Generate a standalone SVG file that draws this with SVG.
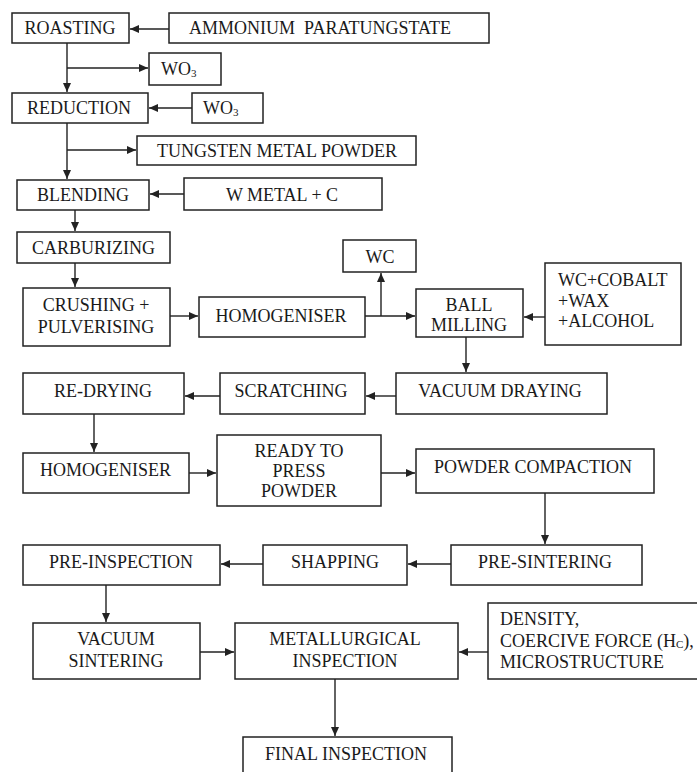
<svg xmlns="http://www.w3.org/2000/svg" width="697" height="772" viewBox="0 0 697 772">
<style>
  .box { fill: #ffffff; stroke: #222222; stroke-width: 1.5; }
  .t { font-family: "Liberation Serif", "Times New Roman", serif; font-size: 18px; fill: #1a1a1a; text-anchor: middle; }
  .tl { font-family: "Liberation Serif", "Times New Roman", serif; font-size: 18px; fill: #1a1a1a; text-anchor: start; }
  .sub { font-size: 11px; }
  .c { fill: none; stroke: #222222; stroke-width: 1.4; marker-end: url(#arr); }
  .l { fill: none; stroke: #222222; stroke-width: 1.4; }
</style>
<defs>
  <marker id="arr" markerUnits="userSpaceOnUse" markerWidth="10" markerHeight="8" refX="9" refY="4" orient="auto">
    <path d="M0,0 L9,4 L0,8 Z" fill="#222222"/>
  </marker>
</defs>
<rect width="697" height="772" fill="#ffffff"/>

<g id="connectors">
  <line class="c" x1="169" y1="29" x2="130" y2="29"/>
  <line class="c" x1="67" y1="43" x2="67" y2="92"/>
  <line class="c" x1="67" y1="68" x2="148" y2="68"/>
  <line class="c" x1="192" y1="108" x2="149" y2="108"/>
  <line class="c" x1="67" y1="123" x2="67" y2="179"/>
  <line class="c" x1="67" y1="150" x2="136" y2="150"/>
  <line class="c" x1="184" y1="194" x2="150" y2="194"/>
  <line class="c" x1="75" y1="210" x2="75" y2="231"/>
  <line class="c" x1="75" y1="263" x2="75" y2="287"/>
  <line class="c" x1="170" y1="316" x2="198" y2="316"/>
  <line class="c" x1="365" y1="316" x2="415" y2="316"/>
  <line class="c" x1="381" y1="316" x2="381" y2="273"/>
  <line class="c" x1="545" y1="317" x2="524" y2="317"/>
  <line class="c" x1="466" y1="337" x2="466" y2="372"/>
  <line class="c" x1="396" y1="396" x2="366" y2="396"/>
  <line class="c" x1="220" y1="396" x2="185" y2="396"/>
  <line class="c" x1="94" y1="414" x2="94" y2="452"/>
  <line class="c" x1="189" y1="473" x2="216" y2="473"/>
  <line class="c" x1="381" y1="473" x2="415" y2="473"/>
  <line class="c" x1="545" y1="493" x2="545" y2="544"/>
  <line class="c" x1="451" y1="564" x2="408" y2="564"/>
  <line class="c" x1="263" y1="564" x2="221" y2="564"/>
  <line class="c" x1="106" y1="585" x2="106" y2="622"/>
  <line class="c" x1="200" y1="652" x2="234" y2="652"/>
  <line class="c" x1="488" y1="652" x2="459" y2="652"/>
  <line class="c" x1="335" y1="679" x2="335" y2="736"/>
</g>

<g id="roasting">
  <rect class="box" x="12" y="13" width="117" height="30"/>
  <text class="t" x="70" y="34">ROASTING</text>
</g>
<g id="ammonium">
  <rect class="box" x="169" y="13" width="320" height="30"/>
  <text class="t" x="320" y="34" xml:space="preserve">AMMONIUM  PARATUNGSTATE</text>
</g>
<g id="wo3-out">
  <rect class="box" x="149" y="53" width="72" height="32"/>
  <text class="tl" x="161" y="75">WO<tspan class="sub" dy="2">3</tspan></text>
</g>
<g id="reduction">
  <rect class="box" x="12" y="93" width="136" height="30"/>
  <text class="t" x="79" y="114">REDUCTION</text>
</g>
<g id="wo3-in">
  <rect class="box" x="192" y="93" width="71" height="30"/>
  <text class="tl" x="203" y="114">WO<tspan class="sub" dy="2">3</tspan></text>
</g>
<g id="tungsten">
  <rect class="box" x="137" y="136" width="279" height="29"/>
  <text class="t" x="277" y="157">TUNGSTEN METAL POWDER</text>
</g>
<g id="blending">
  <rect class="box" x="17" y="180" width="132" height="30"/>
  <text class="t" x="83" y="201">BLENDING</text>
</g>
<g id="wmetal">
  <rect class="box" x="184" y="178" width="198" height="32"/>
  <text class="t" x="282" y="201">W METAL + C</text>
</g>
<g id="carburizing">
  <rect class="box" x="17" y="232" width="153" height="31"/>
  <text class="t" x="93.5" y="254">CARBURIZING</text>
</g>
<g id="crushing">
  <rect class="box" x="23" y="288" width="147" height="58"/>
  <text class="t" x="96" y="311">CRUSHING +</text>
  <text class="t" x="96" y="333">PULVERISING</text>
</g>
<g id="homogeniser1">
  <rect class="box" x="199" y="297" width="166" height="40"/>
  <text class="t" x="281" y="322">HOMOGENISER</text>
</g>
<g id="wc">
  <rect class="box" x="343" y="240" width="73" height="32"/>
  <text class="t" x="380" y="263">WC</text>
</g>
<g id="ballmilling">
  <rect class="box" x="416" y="289" width="107" height="48"/>
  <text class="t" x="469" y="311">BALL</text>
  <text class="t" x="469" y="331">MILLING</text>
</g>
<g id="wccobalt">
  <rect class="box" x="545" y="263" width="136" height="82"/>
  <text class="tl" x="558" y="286">WC+COBALT</text>
  <text class="tl" x="558" y="307">+WAX</text>
  <text class="tl" x="558" y="327">+ALCOHOL</text>
</g>
<g id="vacuumdraying">
  <rect class="box" x="396" y="373" width="211" height="41"/>
  <text class="t" x="500" y="397">VACUUM DRAYING</text>
</g>
<g id="scratching">
  <rect class="box" x="220" y="373" width="145" height="41"/>
  <text class="t" x="291" y="397">SCRATCHING</text>
</g>
<g id="redrying">
  <rect class="box" x="23" y="373" width="161" height="41"/>
  <text class="t" x="103" y="397">RE-DRYING</text>
</g>
<g id="homogeniser2">
  <rect class="box" x="23" y="453" width="166" height="40"/>
  <text class="t" x="105.5" y="476">HOMOGENISER</text>
</g>
<g id="readytopress">
  <rect class="box" x="217" y="435" width="164" height="71"/>
  <text class="t" x="299" y="457">READY TO</text>
  <text class="t" x="299" y="477">PRESS</text>
  <text class="t" x="299" y="497">POWDER</text>
</g>
<g id="powdercompaction">
  <rect class="box" x="416" y="449" width="238" height="44"/>
  <text class="t" x="533" y="473">POWDER COMPACTION</text>
</g>
<g id="presintering">
  <rect class="box" x="451" y="545" width="191" height="40"/>
  <text class="t" x="545" y="568">PRE-SINTERING</text>
</g>
<g id="shapping">
  <rect class="box" x="263" y="545" width="144" height="40"/>
  <text class="t" x="335" y="568">SHAPPING</text>
</g>
<g id="preinspection">
  <rect class="box" x="23" y="545" width="197" height="40"/>
  <text class="t" x="121" y="568">PRE-INSPECTION</text>
</g>
<g id="vacuumsintering">
  <rect class="box" x="33" y="623" width="167" height="56"/>
  <text class="t" x="116" y="645">VACUUM</text>
  <text class="t" x="116" y="667">SINTERING</text>
</g>
<g id="metallurgical">
  <rect class="box" x="235" y="623" width="223" height="56"/>
  <text class="t" x="345" y="645">METALLURGICAL</text>
  <text class="t" x="345" y="667">INSPECTION</text>
</g>
<g id="density">
  <rect class="box" x="488" y="603" width="215" height="76"/>
  <text class="tl" x="500" y="625">DENSITY,</text>
  <text class="tl" x="500" y="647">COERCIVE FORCE (H<tspan class="sub" dy="1">C</tspan><tspan dy="-1">),</tspan></text>
  <text class="tl" x="500" y="668">MICROSTRUCTURE</text>
</g>
<g id="finalinspection">
  <rect class="box" x="243" y="737" width="209" height="50"/>
  <text class="t" x="346" y="760">FINAL INSPECTION</text>
</g>
</svg>
